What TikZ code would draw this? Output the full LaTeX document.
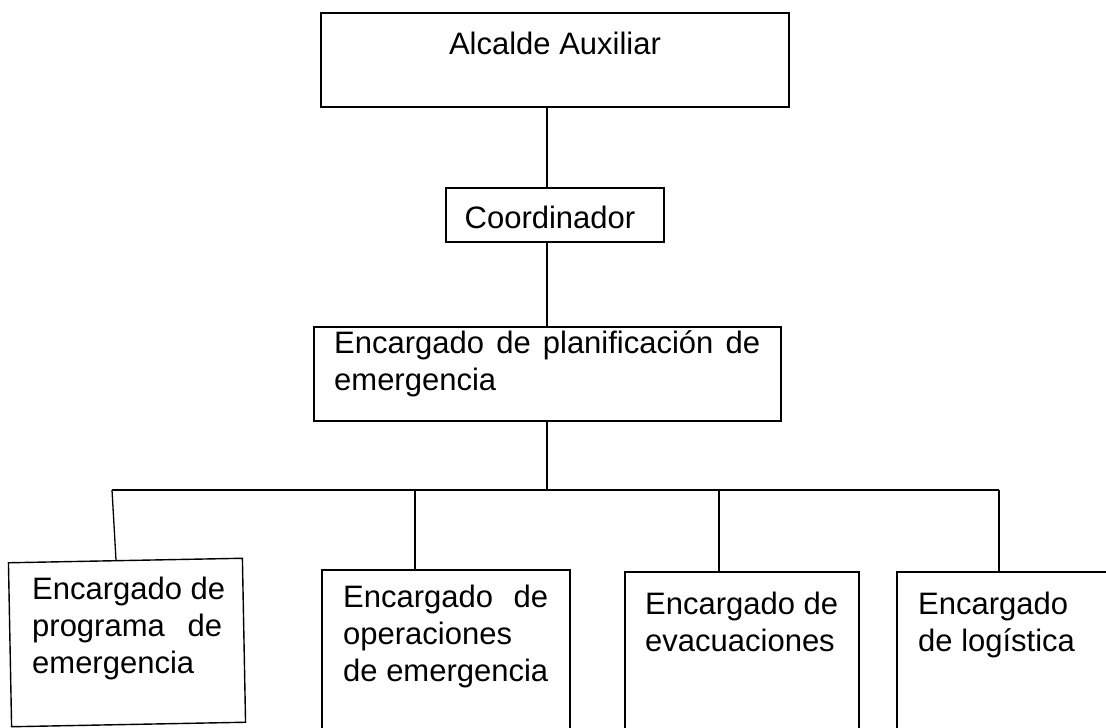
\documentclass[tikz,border=0pt]{standalone}
\usepackage{fontspec}
\setmainfont{Liberation Sans}
\usetikzlibrary{calc}
\begin{document}
\begin{tikzpicture}[x=1pt,y=-1pt,
  box/.style={draw=black,line width=1.4pt,rectangle,inner sep=0pt},
  txt/.style={inner sep=0pt,font=\fontsize{31}{37}\selectfont,align=left,anchor=north west},
  conn/.style={draw=black,line width=1.3pt}]
\useasboundingbox (0,0) rectangle (1106,728);
\clip (0,0) rectangle (1106,728);
% boxes
\node[box,minimum width=468pt,minimum height=94pt] (alc) at (555,60) {};
\node[box,minimum width=218pt,minimum height=54pt] (coord) at (555,215) {};
\node[box,minimum width=467pt,minimum height=94pt] (plan) at (547.5,374) {};
\node[box,minimum width=234pt,minimum height=164pt,rotate=1.1] (b1) at (127,642.5) {};
\node[box,minimum width=248pt,minimum height=200pt] (b2) at (446,670) {};
\node[box,minimum width=234pt,minimum height=200pt] (b3) at (742,672) {};
\node[box,minimum width=240pt,minimum height=200pt] (b4) at (1017,672) {};
% texts
\node[txt,anchor=base] (talc) at (555,54) {Alcalde Auxiliar};
\node[txt,anchor=base] (tcoord) at (550,228) {Coordinador};
\node[txt] (tplan) at (334,330) {\makebox[426pt][s]{Encargado\hfill de\hfill planificaci\'on\hfill de}\\emergencia};
\node[txt] (tb1) at (32,577) {Encargado de\\\makebox[190pt][s]{programa\hfill de}\\emergencia};
\node[txt] (tb2) at (343,585) {\makebox[205pt][s]{Encargado\hfill de}\\operaciones\\de emergencia};
\node[txt] (tb3) at (645,592) {Encargado de\\evacuaciones};
\node[txt] (tb4) at (918,592) {Encargado\\de log\'istica};
% connectors
\coordinate (v) at (547,0);
\coordinate (busL) at (112,490);
\coordinate (busR) at (999,490);
\coordinate (d2) at (415,490);
\coordinate (d3) at (719,490);
\draw[conn] (v |- alc.south) -- (v |- coord.north);
\draw[conn] (v |- coord.south) -- (v |- plan.north);
\draw[conn] (v |- plan.south) -- (v |- busL);
\draw[conn] (busL) -- (busR);
\draw[conn] (busL) -- ($(b1.north west)!0.46!(b1.north east)$);
\draw[conn] (d2) -- (d2 |- b2.north);
\draw[conn] (d3) -- (d3 |- b3.north);
\draw[conn] (busR) -- (busR |- b4.north);
\end{tikzpicture}
\end{document}
